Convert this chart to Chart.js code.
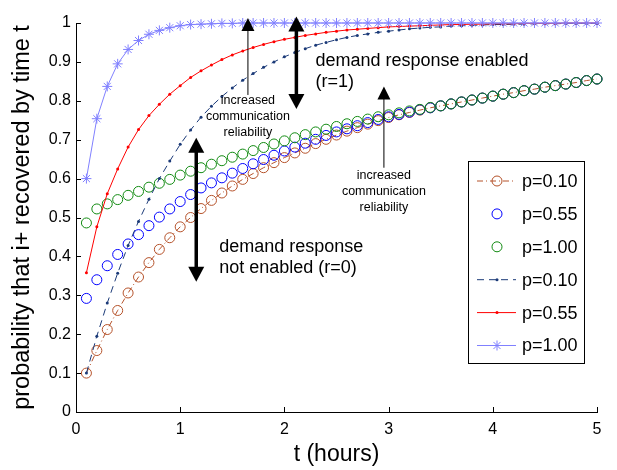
<!DOCTYPE html>
<html>
<head>
<meta charset="utf-8">
<script src="https://cdn.jsdelivr.net/npm/chart.js@4.4.0/dist/chart.umd.min.js"></script>
<style>
  html, body { margin: 0; padding: 0; background: #fff; }
  #wrap { width: 617px; height: 470px; }
</style>
</head>
<body>
<div id="wrap"><canvas id="recoveryChart" width="617" height="470"></canvas></div>
<script>
// time axis (hours)
const hours = [0.1,0.2,0.3,0.4,0.5,0.6,0.7,0.8,0.9,1.0,
               1.1,1.2,1.3,1.4,1.5,1.6,1.7,1.8,1.9,2.0,
               2.1,2.2,2.3,2.4,2.5,2.6,2.7,2.8,2.9,3.0,
               3.1,3.2,3.3,3.4,3.5,3.6,3.7,3.8,3.9,4.0,
               4.1,4.2,4.3,4.4,4.5,4.6,4.7,4.8,4.9,5.0];

// demand response not enabled (r=0)
const noDrP010 = [0.100,0.158,0.212,0.261,0.306,0.347,0.384,0.418,0.448,0.476,
                  0.500,0.523,0.544,0.563,0.581,0.598,0.613,0.628,0.641,0.654,
                  0.666,0.678,0.690,0.701,0.712,0.722,0.731,0.740,0.749,0.757,
                  0.764,0.770,0.776,0.782,0.787,0.792,0.797,0.802,0.807,0.812,
                  0.817,0.821,0.826,0.830,0.835,0.839,0.843,0.847,0.852,0.856];
const noDrP055 = [0.292,0.340,0.376,0.405,0.432,0.456,0.479,0.501,0.522,0.541,
                  0.559,0.576,0.589,0.602,0.614,0.626,0.638,0.649,0.660,0.671,
                  0.681,0.691,0.701,0.711,0.720,0.728,0.736,0.744,0.752,0.759,
                  0.765,0.771,0.777,0.782,0.787,0.792,0.797,0.802,0.807,0.812,
                  0.817,0.821,0.826,0.830,0.835,0.839,0.843,0.847,0.852,0.856];
const noDrP100 = [0.486,0.522,0.535,0.546,0.557,0.567,0.578,0.588,0.598,0.609,
                  0.619,0.628,0.637,0.646,0.655,0.663,0.672,0.680,0.689,0.697,
                  0.705,0.713,0.720,0.727,0.734,0.741,0.747,0.753,0.759,0.764,
                  0.769,0.774,0.778,0.783,0.787,0.792,0.797,0.802,0.807,0.812,
                  0.817,0.821,0.826,0.830,0.835,0.839,0.843,0.847,0.852,0.856];

// demand response enabled (r=1)
const drP010 = [0.100,0.195,0.280,0.357,0.428,0.490,0.547,0.600,0.645,0.688,
                0.725,0.758,0.786,0.811,0.833,0.853,0.870,0.886,0.900,0.913,
                0.924,0.934,0.943,0.950,0.957,0.963,0.968,0.972,0.976,0.979,
                0.982,0.985,0.987,0.989,0.990,0.992,0.993,0.994,0.995,0.996,
                0.996,0.997,0.997,0.998,0.998,0.998,0.999,0.999,0.999,0.999];
const drP055 = [0.358,0.476,0.561,0.625,0.681,0.726,0.762,0.791,0.817,0.839,
                0.860,0.877,0.892,0.906,0.918,0.928,0.937,0.945,0.952,0.958,
                0.963,0.968,0.972,0.976,0.979,0.982,0.984,0.986,0.988,0.990,
                0.991,0.992,0.993,0.994,0.995,0.996,0.996,0.997,0.997,0.998,
                0.998,0.998,0.999,0.999,0.999,0.999,1.000,1.000,1.000,1.000];
const drP100 = [0.600,0.754,0.837,0.895,0.932,0.955,0.971,0.981,0.988,0.993,
                0.996,0.997,0.998,0.999,0.999,1.000,1.000,1.000,1.000,1.000,
                1.000,1.000,1.000,1.000,1.000,1.000,1.000,1.000,1.000,1.000,
                1.000,1.000,1.000,1.000,1.000,1.000,1.000,1.000,1.000,1.000,
                1.000,1.000,1.000,1.000,1.000,1.000,1.000,1.000,1.000,1.000];

const seriesLabels = ['p=0.10','p=0.55','p=1.00','p=0.10','p=0.55','p=1.00'];
const xTicks = [0,1,2,3,4,5];
const yTicks = [0,0.1,0.2,0.3,0.4,0.5,0.6,0.7,0.8,0.9,1];

const FONT = "'Liberation Sans', Arial, Helvetica, sans-serif";
const pts = vals => hours.map((t, i) => ({x: t, y: vals[i]}));

// inward tick marks, matlab style
const inTicks = {
  id: 'inTicks',
  afterDraw(chart) {
    const {ctx, chartArea: a, scales: {x, y}} = chart;
    ctx.save();
    ctx.strokeStyle = '#000';
    ctx.lineWidth = 1;
    ctx.beginPath();
    xTicks.forEach(v => {
      const px = Math.round(x.getPixelForValue(v)) + 0.5;
      ctx.moveTo(px, a.bottom); ctx.lineTo(px, a.bottom - 5);
    });
    yTicks.forEach(v => {
      const py = Math.round(y.getPixelForValue(v)) + 0.5;
      ctx.moveTo(a.left, py); ctx.lineTo(a.left + 5, py);
    });
    ctx.stroke();
    ctx.restore();
  }
};

function head(ctx, x, tipY, dir, w, h) {
  ctx.beginPath();
  ctx.moveTo(x, tipY);
  ctx.lineTo(x - w / 2, tipY + dir * h);
  ctx.lineTo(x + w / 2, tipY + dir * h);
  ctx.closePath();
  ctx.fill();
}

// arrows and text notes
const notes = {
  id: 'notes',
  afterDraw(chart) {
    const {ctx, scales: {x, y}} = chart;
    ctx.save();
    ctx.fillStyle = '#000';
    ctx.strokeStyle = '#000';

    // thin arrows: increased communication reliability
    [[1.65, 0.815, 1.013, 0.800], [2.955, 0.628, 0.837, 0.607]].forEach(([t, y0, y1, ty]) => {
      const px = x.getPixelForValue(t);
      const tip = y.getPixelForValue(y1);
      ctx.lineWidth = 1;
      ctx.beginPath();
      ctx.moveTo(px, y.getPixelForValue(y0));
      ctx.lineTo(px, tip + 8);
      ctx.stroke();
      head(ctx, px, tip, 1, 13, 13);
      ctx.font = '12.5px ' + FONT;
      ctx.textAlign = 'center';
      ctx.textBaseline = 'middle';
      const top = y.getPixelForValue(ty);
      ['increased', 'communication', 'reliability'].forEach((s, i) => ctx.fillText(s, px, top + i * 16));
    });

    // thick double arrows
    [[2.115, 0.779, 1.017], [1.154, 0.335, 0.705]].forEach(([t, y0, y1]) => {
      const px = x.getPixelForValue(t);
      const bot = y.getPixelForValue(y0);
      const tip = y.getPixelForValue(y1);
      ctx.lineWidth = 3.5;
      ctx.beginPath();
      ctx.moveTo(px, tip + 8);
      ctx.lineTo(px, bot - 8);
      ctx.stroke();
      head(ctx, px, tip, 1, 16, 15);
      head(ctx, px, bot, -1, 16, 15);
    });

    ctx.font = '18px ' + FONT;
    ctx.textAlign = 'left';
    ctx.textBaseline = 'middle';
    ctx.fillText('demand response enabled', x.getPixelForValue(2.298), y.getPixelForValue(0.903));
    ctx.fillText('(r=1)', x.getPixelForValue(2.298), y.getPixelForValue(0.849));
    ctx.fillText('demand response', x.getPixelForValue(1.375), y.getPixelForValue(0.425));
    ctx.fillText('not enabled (r=0)', x.getPixelForValue(1.375), y.getPixelForValue(0.370));
    ctx.restore();
  }
};

function marker(ctx, ds, cx, cy) {
  const r = ds.pointRadius;
  ctx.strokeStyle = ds.borderColor;
  ctx.fillStyle = ds.borderColor;
  ctx.lineWidth = 1;
  ctx.setLineDash([]);
  if (ds.pointStyle === 'circle' && r > 3) {
    ctx.beginPath(); ctx.arc(cx, cy, r, 0, Math.PI * 2); ctx.stroke();
  } else if (ds.pointStyle === 'circle') {
    ctx.beginPath(); ctx.arc(cx, cy, r, 0, Math.PI * 2); ctx.fill();
  } else if (ds.pointStyle === 'star') {
    ctx.beginPath();
    for (let k = 0; k < 4; k++) {
      const a = k * Math.PI / 4;
      ctx.moveTo(cx - r * Math.cos(a), cy - r * Math.sin(a));
      ctx.lineTo(cx + r * Math.cos(a), cy + r * Math.sin(a));
    }
    ctx.stroke();
  }
}

// legend box inside the axes
const boxLegend = {
  id: 'boxLegend',
  afterDraw(chart) {
    const {ctx, chartArea: a} = chart;
    const left = a.right - 129, top = a.top + 138, w = 116, h = 202;
    ctx.save();
    ctx.fillStyle = '#fff';
    ctx.fillRect(left, top, w, h);
    ctx.strokeStyle = '#000';
    ctx.lineWidth = 1;
    ctx.strokeRect(Math.round(left) + 0.5, Math.round(top) + 0.5, w, h);
    chart.data.datasets.forEach((ds, i) => {
      const cy = top + 20 + i * 32.9;
      if (ds.showLine !== false) {
        ctx.strokeStyle = ds.borderColor;
        ctx.lineWidth = ds.borderWidth;
        ctx.setLineDash(ds.borderDash || []);
        ctx.beginPath();
        ctx.moveTo(left + 9, cy); ctx.lineTo(left + 48, cy);
        ctx.stroke();
      }
      marker(ctx, ds, left + 29, cy);
      ctx.fillStyle = '#000';
      ctx.font = '18px ' + FONT;
      ctx.textAlign = 'left';
      ctx.textBaseline = 'middle';
      ctx.fillText(ds.label, left + 54, cy + 1);
    });
    ctx.restore();
  }
};

new Chart(document.getElementById('recoveryChart'), {
  type: 'line',
  data: {
    datasets: [{
        label: seriesLabels[0], data: pts(noDrP010),
        borderColor: '#b5522a', borderWidth: 1, borderDash: [6, 3, 1, 3],
        pointStyle: 'circle', pointRadius: 5, pointBorderWidth: 1,
        pointBackgroundColor: 'rgba(0,0,0,0)', order: 6
      }, {
        label: seriesLabels[1], data: pts(noDrP055), showLine: false,
        borderColor: '#0000ff', borderWidth: 1,
        pointStyle: 'circle', pointRadius: 5, pointBorderWidth: 1,
        pointBackgroundColor: 'rgba(0,0,0,0)', order: 5
      }, {
        label: seriesLabels[2], data: pts(noDrP100), showLine: false,
        borderColor: '#118a11', borderWidth: 1,
        pointStyle: 'circle', pointRadius: 5, pointBorderWidth: 1,
        pointBackgroundColor: 'rgba(0,0,0,0)', order: 4
      }, {
        label: seriesLabels[3], data: pts(drP010),
        borderColor: '#1b3a78', borderWidth: 1, borderDash: [7, 5],
        pointStyle: 'circle', pointRadius: 1.5, pointBorderWidth: 0,
        pointBackgroundColor: '#1b3a78', order: 3
      }, {
        label: seriesLabels[4], data: pts(drP055),
        borderColor: '#ff0000', borderWidth: 1,
        pointStyle: 'circle', pointRadius: 1.5, pointBorderWidth: 0,
        pointBackgroundColor: '#ff0000', order: 2
      }, {
        label: seriesLabels[5], data: pts(drP100),
        borderColor: '#8080ff', borderWidth: 1,
        pointStyle: 'star', pointRadius: 5, pointBorderWidth: 1,
        pointBackgroundColor: '#8080ff', order: 1
      }
    ]
  },
  options: {
    responsive: false,
    animation: false,
    devicePixelRatio: 1,
    layout: { padding: { top: 23, right: 20, left: 0, bottom: 0 } },
    elements: { line: { tension: 0 } },
    datasets: { line: { clip: false } },
    plugins: { legend: { display: false }, tooltip: { enabled: false } },
    scales: {
      x: {
        type: 'linear', min: 0, max: 5,
        afterBuildTicks: s => { s.ticks = xTicks.map(v => ({value: v})); },
        afterFit: s => { s.height = 58; },
        grid: { drawOnChartArea: false, drawTicks: false },
        border: { display: true, color: '#000', width: 1 },
        ticks: { color: '#000', font: { family: FONT, size: 16 }, padding: 8, maxRotation: 0,
                 callback: v => String(v) },
        title: { display: true, text: 't (hours)', color: '#000',
                 font: { family: FONT, size: 23 }, padding: { top: 0, bottom: 2 } }
      },
      y: {
        min: 0, max: 1,
        afterBuildTicks: s => { s.ticks = yTicks.map(v => ({value: v})); },
        afterFit: s => { s.width = 76; },
        grid: { drawOnChartArea: false, drawTicks: false },
        border: { display: true, color: '#000', width: 1 },
        ticks: { color: '#000', font: { family: FONT, size: 16 }, padding: 5,
                 callback: v => String(Math.round(v * 10) / 10) },
        title: { display: true, text: 'probability that i+ recovered by time t', color: '#000',
                 font: { family: FONT, size: 23.5 }, padding: { top: 8, bottom: 0 } }
      }
    }
  },
  plugins: [inTicks, notes, boxLegend]
});
</script>
</body>
</html>
